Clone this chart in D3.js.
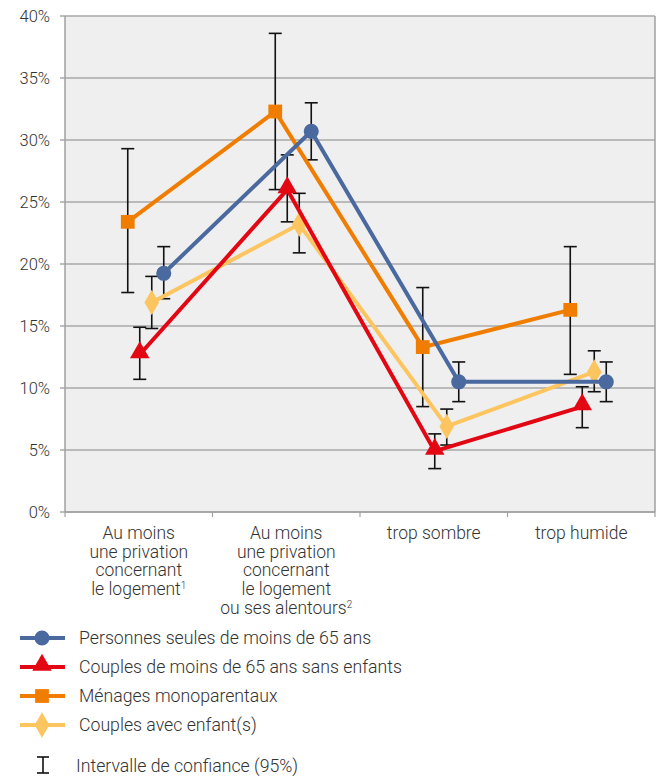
<!DOCTYPE html>
<html>
<head>
<meta charset="utf-8">
<script src="https://cdn.jsdelivr.net/npm/d3@7"></script>
<style>
  body { margin: 0; background: #fff; }
  text { font-family: Roboto, "Noto Sans", sans-serif; font-weight: 300; fill: #333; }
</style>
</head>
<body>
<div id="chart"></div>
<script>
// categories (lines of each label, last item may carry a superscript)
const categories = ["c1", "c2", "c3", "c4"];
const catLabels = [
    [["Au moins"], ["une privation"], ["concernant"], ["le logement", "1"]],
    [["Au moins"], ["une privation"], ["concernant"], ["le logement"], ["ou ses alentours", "2"]],
    [["trop sombre"]],
    [["trop humide"]]
];
const yTicks = [0, 0.05, 0.10, 0.15, 0.20, 0.25, 0.30, 0.35, 0.40];

// series values and confidence intervals (low, high)
const seriesNames = ["Personnes seules de moins de 65 ans", "Couples de moins de 65 ans sans enfants",
    "Ménages monoparentaux", "Couples avec enfant(s)"];
const seulesVals = [0.1925, 0.307, 0.105, 0.105];
const seulesLow = [0.172, 0.284, 0.089, 0.089];
const seulesHigh = [0.214, 0.330, 0.121, 0.121];
const couplesVals = [0.127, 0.260, 0.049, 0.085];
const couplesLow = [0.107, 0.234, 0.035, 0.068];
const couplesHigh = [0.149, 0.288, 0.063, 0.101];
const monoVals = [0.234, 0.323, 0.133, 0.163];
const monoLow = [0.177, 0.260, 0.085, 0.111];
const monoHigh = [0.293, 0.386, 0.181, 0.214];
const enfantsVals = [0.169, 0.232, 0.069, 0.113];
const enfantsLow = [0.148, 0.209, 0.054, 0.097];
const enfantsHigh = [0.190, 0.257, 0.083, 0.130];

let width = 664, height = 778;
let margin = {left: 65, right: 9, top: 16, bottom: 266};

let svg = d3.select("#chart").append("svg")
    .attr("width", width)
    .attr("height", height);

let x = d3.scaleBand()
    .domain(categories)
    .range([margin.left, width - margin.right]);

let y = d3.scaleLinear()
    .domain([0, 0.4])
    .range([height - margin.bottom, margin.top]);

let series = [
    {key: "mono", name: seriesNames[2], vals: monoVals, low: monoLow, high: monoHigh, color: "#f07d00", symbol: d3.symbolSquare, size: 190},
    {key: "enfants", name: seriesNames[3], vals: enfantsVals, low: enfantsLow, high: enfantsHigh, color: "#fdc55f", symbol: d3.symbolDiamond, size: 185},
    {key: "couples", name: seriesNames[1], vals: couplesVals, low: couplesLow, high: couplesHigh, color: "#e30613", symbol: d3.symbolTriangle, size: 165},
    {key: "seules", name: seriesNames[0], vals: seulesVals, low: seulesLow, high: seulesHigh, color: "#4a699e", symbol: d3.symbolCircle, size: 180}
];

// small horizontal offset of each series inside a category
let offset = d3.scalePoint()
    .domain(["mono", "couples", "enfants", "seules"])
    .range([-11, 25]);

function px(s, i) {
    return x(categories[i]) + x.bandwidth() / 2 + offset(s.key);
}

// plot background
svg.append("rect")
    .attr("x", margin.left)
    .attr("y", margin.top)
    .attr("width", width - margin.left - margin.right)
    .attr("height", y(0) - margin.top)
    .style("fill", "#efefef");

// gridlines
svg.append("g")
    .selectAll("line")
    .data(yTicks)
    .enter()
    .append("line")
    .attr("x1", margin.left - 5)
    .attr("x2", width - margin.right)
    .attr("y1", d => y(d))
    .attr("y2", d => y(d))
    .style("stroke", "#a8a8a8")
    .style("stroke-width", 1.3);

// y labels
svg.append("g")
    .selectAll("text")
    .data(yTicks)
    .enter()
    .append("text")
    .attr("x", 50)
    .attr("y", d => y(d))
    .attr("dy", "0.35em")
    .style("text-anchor", "end")
    .style("font-size", "16.5px")
    .text(d => d3.format(".0%")(d));

// frame
svg.append("line")
    .attr("x1", margin.left).attr("x2", margin.left)
    .attr("y1", margin.top).attr("y2", y(0))
    .style("stroke", "#a0a0a0").style("stroke-width", 1.5);
svg.append("line")
    .attr("x1", width - margin.right).attr("x2", width - margin.right)
    .attr("y1", margin.top).attr("y2", y(0))
    .style("stroke", "#a0a0a0").style("stroke-width", 1.5);
svg.append("line")
    .attr("x1", margin.left).attr("x2", width - margin.right)
    .attr("y1", y(0)).attr("y2", y(0))
    .style("stroke", "#a0a0a0").style("stroke-width", 1.5);

// x ticks at category boundaries
let bounds = categories.map(c => x(c)).concat([width - margin.right]);
svg.append("g")
    .selectAll("line")
    .data(bounds)
    .enter()
    .append("line")
    .attr("x1", d => d).attr("x2", d => d)
    .attr("y1", y(0)).attr("y2", y(0) + 5)
    .style("stroke", "#a0a0a0").style("stroke-width", 1.2);

// x labels
catLabels.forEach(function (lines, i) {
    let t = svg.append("text")
        .attr("x", x(categories[i]) + x.bandwidth() / 2)
        .attr("y", 538)
        .style("text-anchor", "middle")
        .style("font-size", "17.5px");
    lines.forEach(function (l, j) {
        let ts = t.append("tspan")
            .attr("x", x(categories[i]) + x.bandwidth() / 2)
            .attr("y", 539 + j * 18.7)
            .text(l[0]);
        if (l[1]) {
            t.append("tspan")
                .attr("dy", -6)
                .style("font-size", "10px")
                .text(l[1]);
        }
    });
});

// error bars (behind the lines)
let eb = svg.append("g");
series.forEach(function (s) {
    s.vals.forEach(function (v, i) {
        let cx = px(s, i);
        eb.append("line")
            .attr("x1", cx).attr("x2", cx)
            .attr("y1", y(s.low[i])).attr("y2", y(s.high[i]))
            .style("stroke", "#111").style("stroke-width", 1.6);
        [s.low[i], s.high[i]].forEach(function (e) {
            eb.append("line")
                .attr("x1", cx - 6.5).attr("x2", cx + 6.5)
                .attr("y1", y(e)).attr("y2", y(e))
                .style("stroke", "#111").style("stroke-width", 1.6);
        });
    });
});

// lines and markers
let line = d3.line();
series.forEach(function (s) {
    let pts = s.vals.map((v, i) => [px(s, i), y(v)]);
    svg.append("path")
        .attr("d", line(pts))
        .style("fill", "none")
        .style("stroke", s.color)
        .style("stroke-width", 4);
    svg.append("g")
        .selectAll("path")
        .data(pts)
        .enter()
        .append("path")
        .attr("transform", d => "translate(" + d[0] + "," + (s.symbol === d3.symbolTriangle ? d[1] - 2 : d[1]) + ")")
        .attr("d", d3.symbol().type(s.symbol).size(s.size))
        .style("fill", s.color);
});

// legend
let legendOrder = [series[3], series[2], series[0], series[1]];
let legend = svg.append("g");
legendOrder.forEach(function (s, i) {
    let ly = 638 + i * 29;
    legend.append("line")
        .attr("x1", 20).attr("x2", 65)
        .attr("y1", ly).attr("y2", ly)
        .style("stroke", s.color).style("stroke-width", 4);
    legend.append("path")
        .attr("transform", "translate(42," + (s.symbol === d3.symbolTriangle ? ly - 2 : ly) + ")")
        .attr("d", d3.symbol().type(s.symbol).size(s.size))
        .style("fill", s.color);
    legend.append("text")
        .attr("x", 79)
        .attr("y", ly)
        .attr("dy", "0.35em")
        .style("font-size", "17.7px")
        .text(s.name);
});

// confidence interval legend
let ci = svg.append("g");
ci.append("line").attr("x1", 43).attr("x2", 43).attr("y1", 757).attr("y2", 773)
    .style("stroke", "#111").style("stroke-width", 1.6);
[757, 773].forEach(function (e) {
    ci.append("line").attr("x1", 37).attr("x2", 49).attr("y1", e).attr("y2", e)
        .style("stroke", "#111").style("stroke-width", 1.6);
});
ci.append("text")
    .attr("x", 76)
    .attr("y", 766)
    .attr("dy", "0.35em")
    .style("font-size", "17.7px")
    .text("Intervalle de confiance (95%)");
</script>
</body>
</html>
